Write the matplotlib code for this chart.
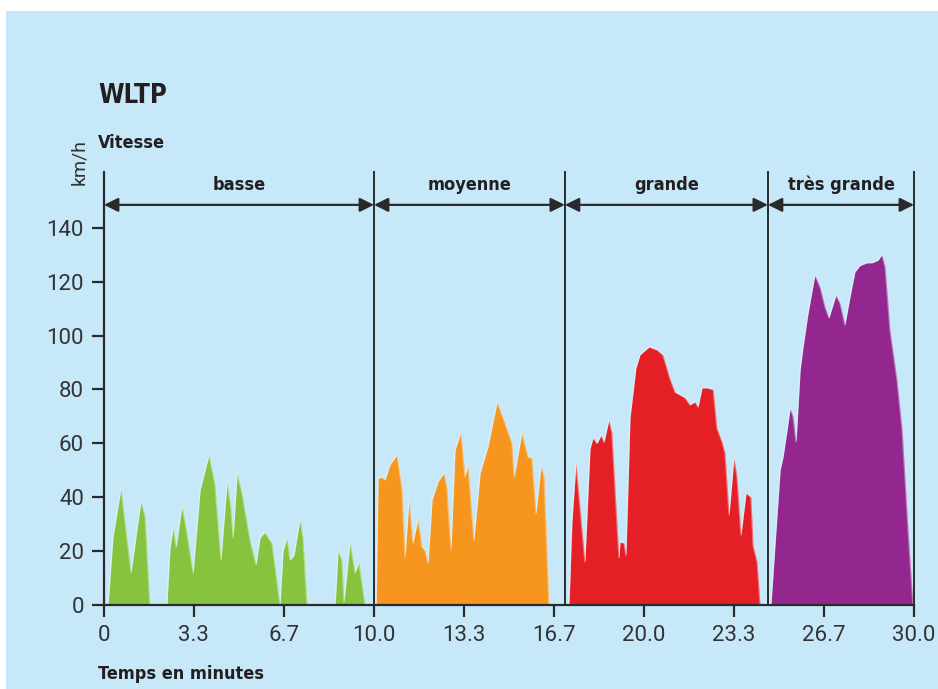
import matplotlib
matplotlib.use("Agg")
import matplotlib.pyplot as plt
from matplotlib.patches import Rectangle

# ---------------- data ----------------
phase_names = ["basse", "moyenne", "grande", "très grande"]
phase_bounds = [0.0, 10.0, 17.07, 24.59, 30.0]
phase_colors = ["#86c33f", "#f6961e", "#e41f25", "#93278f"]

low_t = [0.15, 0.33, 0.63, 1.00, 1.37, 1.52, 1.70, 2.33, 2.44, 2.56, 2.67, 2.89,
         3.04, 3.30, 3.56, 3.89, 4.11, 4.33, 4.56, 4.70, 4.78, 4.93, 5.11, 5.41,
         5.63, 5.78, 5.96, 6.22, 6.52, 6.63, 6.78, 6.89, 7.04, 7.26, 7.37, 7.52,
         8.56, 8.67, 8.81, 8.89, 9.11, 9.30, 9.44, 9.67]
low_v = [0, 25, 43.4, 12, 38.6, 33, 0, 0, 20.4, 29, 21.5, 36.8,
         28.6, 12, 42.7, 55.7, 45, 16.7, 45.7, 36, 25, 49, 41.6, 24,
         15, 25, 27, 23, 0, 20, 25, 16.7, 18.5, 32, 25, 0,
         0, 20.4, 16.7, 1, 23.4, 12, 16, 0]

mid_t = [10.08, 10.15, 10.30, 10.41, 10.59, 10.85, 11.04, 11.15, 11.30, 11.44,
         11.63, 11.78, 11.89, 12.00, 12.15, 12.37, 12.59, 12.70, 12.85, 13.00,
         13.22, 13.37, 13.48, 13.70, 13.93, 14.22, 14.56, 14.85, 15.11, 15.19,
         15.48, 15.70, 15.85, 16.00, 16.19, 16.30, 16.48]
mid_v = [0, 47, 47.5, 46.4, 52, 55.7, 42.7, 17.8, 39.7, 23,
         32, 21.5, 20.4, 15.6, 39, 45.7, 49, 43.8, 20.4, 57.5,
         64.2, 47.5, 52, 24, 49, 58.7, 75.4, 67.6, 60, 47.5,
         64, 55, 54.6, 34, 52, 47.5, 0]

high_t = [17.22, 17.33, 17.48, 17.81, 18.00, 18.11, 18.26, 18.41, 18.52, 18.70,
          18.81, 19.07, 19.11, 19.26, 19.33, 19.48, 19.70, 19.85, 20.19, 20.48,
          20.70, 20.96, 21.15, 21.33, 21.52, 21.70, 21.89, 22.00, 22.15, 22.33,
          22.56, 22.70, 22.89, 23.00, 23.15, 23.33, 23.44, 23.59, 23.78, 23.96,
          24.04, 24.19, 24.30]
high_v = [0, 30.8, 52.7, 16, 58, 62, 60, 63, 60.5, 68.7,
          64, 17.5, 23.4, 23, 18.5, 69.4, 88, 92.8, 95.8, 94.7,
          92.8, 84, 79, 78, 76.9, 74.3, 75.4, 73.5, 80.6, 80.6,
          80, 65.7, 60.5, 56.4, 33.4, 54.6, 48, 26, 41.6, 40,
          22, 16, 0]

xhigh_t = [24.70, 25.04, 25.15, 25.30, 25.41, 25.52, 25.63, 25.78, 25.89, 26.07,
           26.33, 26.52, 26.70, 26.85, 27.11, 27.26, 27.44, 27.63, 27.81, 28.00,
           28.26, 28.44, 28.67, 28.81, 28.93, 29.11, 29.37, 29.56, 29.78, 29.96]
xhigh_v = [0, 50, 55, 65, 73, 70, 60.5, 87, 95.8, 108,
           122.5, 118, 110.7, 106.6, 115, 112, 104, 114.4, 123.6, 126,
           127, 127, 128, 130, 125.5, 102, 83.5, 65, 28, 0]

x_ticks = [0, 3.33, 6.67, 10.0, 13.33, 16.67, 20.0, 23.33, 26.67, 30.0]
x_tick_labels = ["0", "3.3", "6.7", "10.0", "13.3", "16.7", "20.0", "23.3", "26.7", "30.0"]
y_ticks = [0, 20, 40, 60, 80, 100, 120, 140]

# ---------------- figure ----------------
W, H = 938, 689
fig = plt.figure(figsize=(W / 100, H / 100), dpi=100, facecolor="white")
bg = "#c7e8f8"
fig.patches.append(Rectangle((6 / W, 0), 1, (H - 11) / H, transform=fig.transFigure,
                             facecolor=bg, edgecolor="none", zorder=-10))

ax = fig.add_axes([104 / W, 84 / H, 810 / W, 433 / H])
ax.set_facecolor("none")
ax.set_xlim(0, 30)
ax.set_ylim(0, 160.7)

dark = "#2a2a2c"
for t, v, c in [(low_t, low_v, phase_colors[0]), (mid_t, mid_v, phase_colors[1]),
                (high_t, high_v, phase_colors[2]), (xhigh_t, xhigh_v, phase_colors[3])]:
    ax.fill_between(t, 0, v, color=c, lw=0, zorder=2)
    ax.plot(t, v, color="white", lw=1.0, alpha=0.35, zorder=2.5)

for s in ["top", "right"]:
    ax.spines[s].set_visible(False)
for s in ["left", "bottom"]:
    ax.spines[s].set_color(dark)
    ax.spines[s].set_linewidth(1.6)
    ax.spines[s].set_zorder(4)

tick_col = "#333335"
tick_font = dict(family=["Roboto", "DejaVu Sans"], weight="normal", size=16)
ax.set_xticks(x_ticks)
ax.set_xticklabels(x_tick_labels, fontdict=tick_font, color=tick_col)
ax.set_yticks(y_ticks)
ax.set_yticklabels([str(v) for v in y_ticks], fontdict=tick_font, color=tick_col)
ax.tick_params(axis="both", direction="out", length=8.5, width=1.6, color=dark, pad=6)

# phase separators, arrows and labels
for b in phase_bounds[1:]:
    ax.plot([b, b], [0, 160.7], color=dark, lw=1.4, zorder=3, clip_on=False)

bold = dict(family=["Liberation Sans Narrow", "DejaVu Sans"], weight="bold",
            stretch="condensed", color="#231f20")
for i, name in enumerate(phase_names):
    x0, x1 = phase_bounds[i], phase_bounds[i + 1]
    ax.annotate("", xy=(x1, 148.5), xytext=(x0, 148.5),
                arrowprops=dict(arrowstyle="<|-|>,head_length=0.85,head_width=0.42",
                                color=dark, lw=1.6, shrinkA=0, shrinkB=0,
                                mutation_scale=10), zorder=5)
    ax.text((x0 + x1) / 2, 156, name, ha="center", va="center", fontsize=13, **bold)

fig.text(98 / W, 1 - 103 / H, "WLTP", ha="left", va="baseline", fontsize=18.5, **bold)
fig.text(98 / W, 1 - 148 / H, "Vitesse", ha="left", va="baseline", fontsize=13, **bold)
fig.text(98 / W, 1 - 679 / H, "Temps en minutes", ha="left", va="baseline", fontsize=13, **bold)
fig.text(79 / W, 1 - 162 / H, "km/h", ha="center", va="center", rotation=90,
         fontsize=14, family=["Roboto", "DejaVu Sans"], weight="normal", color=tick_col)

fig.savefig("out.png", dpi=100, facecolor="white")
